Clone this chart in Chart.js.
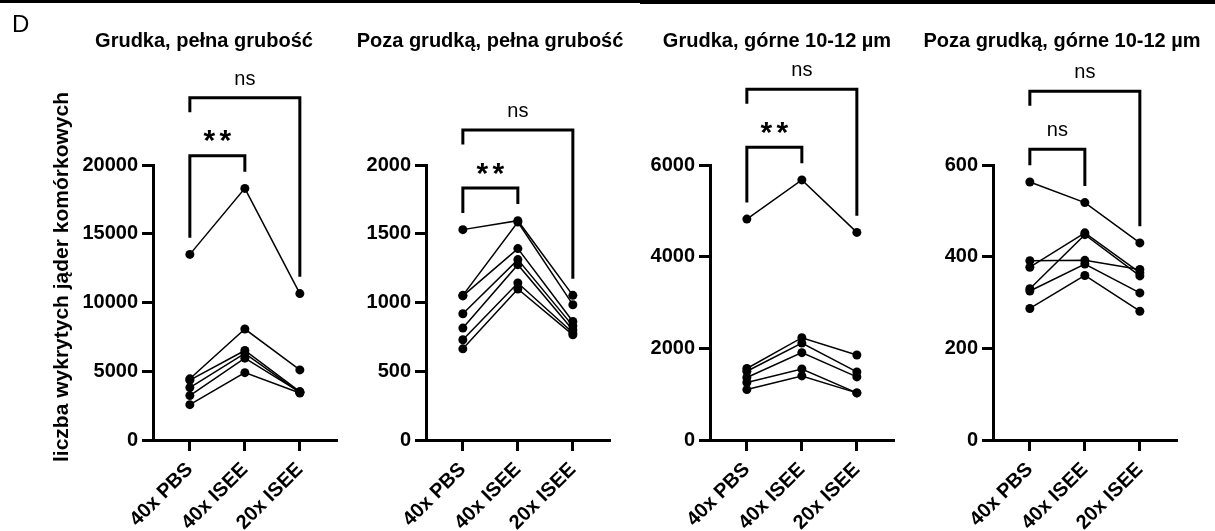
<!DOCTYPE html>
<html><head><meta charset="utf-8">
<script src="https://cdn.jsdelivr.net/npm/chart.js@4.4.1/dist/chart.umd.min.js"></script>
<style>
html,body{margin:0;padding:0;background:#fff;}
#wrap{position:relative;width:1215px;height:531px;overflow:hidden;background:#fff;}
canvas{position:absolute;left:0;top:0;}
</style></head><body>
<div id="wrap">
  <div style="position:absolute;left:0;top:0;width:1215px;height:3px;background:#000"></div>
  <div style="position:absolute;left:640px;top:0;width:575px;height:4px;background:#000"></div>
  <canvas id="c0" width="1215" height="531"></canvas>
  <canvas id="c1" width="1215" height="531"></canvas>
  <canvas id="c2" width="1215" height="531"></canvas>
  <canvas id="c3" width="1215" height="531"></canvas>
</div>
<script>
// ---------- data ----------
const categories = ['40x PBS', '40x ISEE', '20x ISEE'];
const panelTitles = ['Grudka, pełna grubość', 'Poza grudką, pełna grubość', 'Grudka, górne 10-12 µm', 'Poza grudką, górne 10-12 µm'];
const yAxisTitle = 'liczba wykrytych jąder komórkowych';
const panelLetter = 'D';
const yMaxValues = [20000, 2000, 6000, 600];
const yStepValues = [5000, 500, 2000, 200];
const sigInner = ['**', '**', '**', 'ns'];
const sigOuter = ['ns', 'ns', 'ns', 'ns'];

// each row: one sample [40x PBS, 40x ISEE, 20x ISEE]
const grudkaPelna = [
  [13500, 18300, 10650],
  [4450, 8070, 5100],
  [4350, 6510, 3520],
  [3810, 6300, 3450],
  [3230, 5950, 3480],
  [2570, 4900, 3420]
];
const pozaGrudkaPelna = [
  [1530, 1595, 1052],
  [1052, 1585, 984],
  [1048, 1392, 862],
  [918, 1312, 830],
  [814, 1275, 800],
  [729, 1142, 780],
  [663, 1098, 765]
];
const grudkaGorne = [
  [4820, 5675, 4530],
  [1560, 2232, 1855],
  [1500, 2115, 1485],
  [1363, 1906, 1376],
  [1254, 1550, 1028],
  [1100, 1398, 1028]
];
const pozaGrudkaGorne = [
  [563, 518, 430],
  [391, 392, 372],
  [377, 452, 365],
  [330, 448, 358],
  [325, 384, 321],
  [287, 359, 281]
];
const panelSeries = [grudkaPelna, pozaGrudkaPelna, grudkaGorne, pozaGrudkaGorne];

// ---------- layout ----------
const FONT = '"Liberation Sans", Arial, Helvetica, sans-serif';
const W = 1215, H = 531;
const axisXs = [153, 426, 710, 993];
const titleCenters = [204, 490, 777, 1062];
const AREA_TOP = 165, AREA_BOTTOM = 440;
const X_MIN = -0.67, X_MAX = 2.68, UNIT = 55;
const Y_AXIS_W = 100;

const bracketPlugin = {
  id: 'brackets',
  afterDraw(chart, args, o) {
    const ctx = chart.ctx;
    const x = chart.scales.x, y = chart.scales.y;
    const ds = chart.data.datasets;
    const xs = [0, 1, 2].map(i => x.getPixelForValue(i));
    const tops = [0, 1, 2].map(i => Math.min(...ds.map(d => y.getPixelForValue(d.data[i].y))));
    const leg = tops.map(t => t - 16.7);
    const innerTop = Math.min(leg[0], leg[1]) - 16;
    const innerLabelY = innerTop - 18.5;
    const outerTop = innerLabelY - 39.5;
    const outerLeftEnd = outerTop + 14.5;
    const outerLabelY = outerTop - 18.5;
    ctx.save();
    ctx.strokeStyle = '#000';
    ctx.lineWidth = 3;
    ctx.lineJoin = 'miter';
    ctx.lineCap = 'butt';
    ctx.beginPath();
    ctx.moveTo(xs[0], leg[0]); ctx.lineTo(xs[0], innerTop); ctx.lineTo(xs[1], innerTop); ctx.lineTo(xs[1], leg[1]);
    ctx.stroke();
    ctx.beginPath();
    ctx.moveTo(xs[0], outerLeftEnd); ctx.lineTo(xs[0], outerTop); ctx.lineTo(xs[2], outerTop); ctx.lineTo(xs[2], leg[2]);
    ctx.stroke();
    ctx.fillStyle = '#000';
    ctx.textAlign = 'center';
    ctx.textBaseline = 'middle';
    const lab = (t, cx, cy) => {
      if (t === 'ns') { ctx.font = '20px ' + FONT; ctx.fillText(t, cx, cy); }
      else {
        ctx.font = 'bold 30px ' + FONT;
        const n = t.length, gap = 16;
        for (let k = 0; k < n; k++) ctx.fillText('*', cx + (k - (n - 1) / 2) * gap, cy + 5);
      }
    };
    lab(o.inner, (xs[0] + xs[1]) / 2, innerLabelY);
    lab(o.outer, (xs[0] + xs[2]) / 2, outerLabelY);
    // panel title
    ctx.font = 'bold 20px ' + FONT;
    ctx.fillText(o.title, o.titleX, 41);
    if (o.yTitle) {
      ctx.save();
      ctx.translate(62, 277);
      ctx.rotate(-Math.PI / 2);
      ctx.font = 'bold 21px ' + FONT;
      ctx.fillText(o.yTitle, 0, 0);
      ctx.restore();
      ctx.textAlign = 'left';
      ctx.textBaseline = 'alphabetic';
      ctx.font = '24px ' + FONT;
      ctx.fillText(panelLetter, 12, 32);
    }
    ctx.restore();
  }
};

panelSeries.forEach((series, idx) => {
  const axisX = axisXs[idx];
  const areaW = (X_MAX - X_MIN) * UNIT;
  new Chart(document.getElementById('c' + idx), {
    type: 'line',
    data: {
      datasets: series.map(s => ({
        data: s.map((v, i) => ({ x: i, y: v })),
        borderColor: '#000',
        borderWidth: 1.5,
        pointRadius: 4.5,
        pointBackgroundColor: '#000',
        pointBorderColor: '#000',
        pointBorderWidth: 0,
        fill: false,
        tension: 0,
        clip: false
      }))
    },
    options: {
      responsive: false,
      animation: false,
      layout: { padding: { left: axisX - Y_AXIS_W, right: W - axisX - areaW, top: AREA_TOP, bottom: 0 } },
      plugins: {
        legend: { display: false },
        tooltip: { enabled: false },
        title: { display: false },
        brackets: {
          inner: sigInner[idx], outer: sigOuter[idx],
          title: panelTitles[idx], titleX: titleCenters[idx],
          yTitle: idx === 0 ? yAxisTitle : null
        }
      },
      scales: {
        x: {
          type: 'linear', min: X_MIN, max: X_MAX,
          afterBuildTicks: s => { s.ticks = categories.map((c, i) => ({ value: i })); },
          afterFit: s => { s.height = H - AREA_BOTTOM; },
          ticks: {
            autoSkip: false, minRotation: 45, maxRotation: 45,
            callback: v => categories[v],
            color: '#000', padding: 7,
            font: { family: FONT, size: 20, weight: 'bold' }
          },
          grid: { display: true, drawOnChartArea: false, drawTicks: true, tickLength: 11, tickWidth: 3, tickColor: '#000' },
          border: { display: true, width: 3, color: '#000' }
        },
        y: {
          min: 0, max: yMaxValues[idx],
          afterFit: s => { s.width = Y_AXIS_W; },
          ticks: {
            stepSize: yStepValues[idx], color: '#000', padding: 4,
            callback: v => String(v),
            font: { family: FONT, size: 20, weight: 'bold' }
          },
          grid: { display: true, drawOnChartArea: false, drawTicks: true, tickLength: 11, tickWidth: 3, tickColor: '#000' },
          border: { display: true, width: 3, color: '#000' }
        }
      }
    },
    plugins: [bracketPlugin]
  });
});
</script>
</body></html>
